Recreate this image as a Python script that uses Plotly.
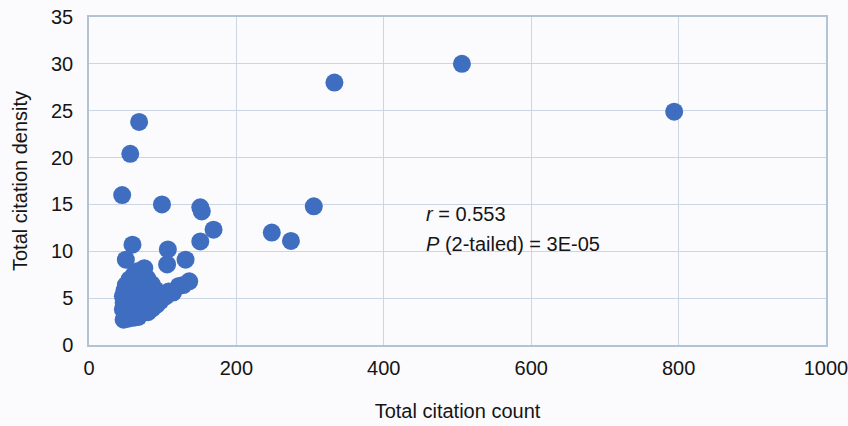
import plotly.graph_objects as go

# Total citation count (x) and total citation density (y)
citation_count = [506, 333, 794, 68, 56, 45, 99, 153, 151, 169, 151, 248, 274, 305,
                  59, 107, 106, 131, 50, 75, 136, 122, 108, 104,
                  47, 53, 60, 67, 76, 80, 86, 92, 97,
                  46, 47, 46, 48, 50, 55, 61, 67, 73, 79, 85, 90, 95,
                  55, 61, 66, 71, 76, 81, 59, 68, 75, 86, 63, 53, 89, 100, 114, 128,
                  57, 72, 82, 64]
citation_density = [30.0, 28.0, 24.9, 23.8, 20.4, 16.0, 15.0, 14.25, 14.7, 12.3, 11.05, 12.0, 11.1, 14.8,
                     10.7, 10.2, 8.6, 9.1, 9.1, 8.2, 6.8, 6.3, 5.7, 5.2,
                     2.7, 2.8, 2.9, 3.0, 3.5, 3.5, 3.9, 4.3, 4.7,
                     3.8, 4.5, 5.2, 5.8, 6.4, 7.0, 7.5, 7.9, 7.7, 7.1, 6.5, 5.9, 5.4,
                     4.0, 4.9, 5.6, 6.3, 5.4, 4.7, 3.7, 4.3, 4.0, 5.0, 6.5, 5.1, 4.5, 5.1, 5.6, 6.4,
                     5.9, 4.9, 5.8, 7.1]

x_ticks = [0, 200, 400, 600, 800, 1000]
y_ticks = [0, 5, 10, 15, 20, 25, 30, 35]

stats_lines = ["<i>r</i> = 0.553", "<i>P</i> (2-tailed) = 3E-05"]
stats_x = 455
stats_y = [14.0, 10.8]

FONT = "Liberation Sans, Arial, Helvetica, sans-serif"
TEXT = "#151515"
GRID = "#cad6e3"
AXIS = "#b3c3d3"
BG = "#fbfbfd"

fig = go.Figure()
fig.add_trace(go.Scatter(
    x=citation_count, y=citation_density, mode="markers",
    marker=dict(size=18, color="#3f6ec1", line=dict(width=0)),
    showlegend=False, hoverinfo="x+y",
))

for txt, yy in zip(stats_lines, stats_y):
    fig.add_annotation(x=stats_x, y=yy, xref="x", yref="y", text=txt,
                       showarrow=False, xanchor="left", yanchor="middle",
                       font=dict(family=FONT, size=20, color=TEXT))

fig.update_layout(
    template="none",
    width=848, height=426,
    margin=dict(l=89, r=22, t=17, b=81, pad=0),
    paper_bgcolor=BG, plot_bgcolor=BG,
    font=dict(family=FONT, size=20, color=TEXT),
    xaxis=dict(
        range=[0, 1000], tickvals=x_ticks, ticktext=[str(v) for v in x_ticks],
        showgrid=True, gridcolor=GRID, gridwidth=1.3,
        showline=True, linecolor=AXIS, linewidth=1.5, mirror=True,
        zeroline=False, ticks="outside", ticklen=4, tickcolor="rgba(0,0,0,0)",
        ticklabeloverflow="allow",
        automargin=False,
        tickfont=dict(family=FONT, size=20, color=TEXT),
        title=dict(text="Total citation count", standoff=26,
                   font=dict(family=FONT, size=20, color=TEXT)),
    ),
    yaxis=dict(
        range=[0, 35], tickvals=y_ticks, ticktext=[str(v) for v in y_ticks],
        showgrid=True, gridcolor=GRID, gridwidth=1.3,
        showline=True, linecolor=AXIS, linewidth=1.5, mirror=True,
        zeroline=False, ticks="outside", ticklen=10, tickcolor="rgba(0,0,0,0)",
        ticklabeloverflow="allow",
        automargin=False,
        tickfont=dict(family=FONT, size=20, color=TEXT),
        title=dict(text="Total citation density", standoff=18,
                   font=dict(family=FONT, size=20, color=TEXT)),
    ),
)
fig.write_html("out.html",
               config={"displayModeBar": False},
               post_script="document.body.style.margin='0';document.body.style.overflow='hidden';")
